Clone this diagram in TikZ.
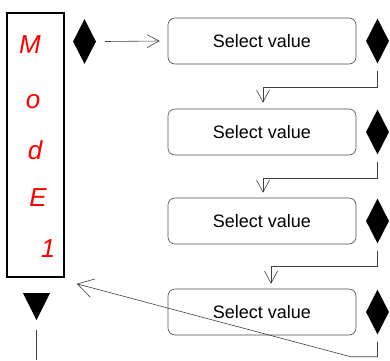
\documentclass[tikz,border=0pt]{standalone}
\usepackage{fontspec}
\setmainfont{Liberation Sans}
\usepackage{tikz}
\usetikzlibrary{arrows.meta,calc,shapes.geometric}
\tikzset{
  valbox/.style = {draw=black!70, line width=0.6pt, rounded corners=7pt,
    minimum width=188pt, minimum height=46pt, inner sep=0pt,
    font=\fontsize{18}{20}\selectfont},
  keyd/.style = {diamond, fill=black, inner sep=0pt,
    minimum width=23pt, minimum height=45pt},
  flow/.style = {draw=black!75, line width=0.6pt,
    -{Straight Barb[length=12pt,width=13pt]}},
  seg/.style = {text=red, inner sep=0pt, font=\fontsize{26}{26}\selectfont\itshape}
}
\begin{document}
\begin{tikzpicture}[x=1pt,y=1pt]
\useasboundingbox (0,0) rectangle (390,360);
% display panel
\node[draw, line width=1.6pt, minimum width=57pt, minimum height=264pt,
  inner sep=0pt] (disp) at (35.5,215) {};
\foreach \c/\x/\y [count=\i] in {M/30/315, o/33/258, d/35/210, E/38/162, 1/48/111}{
  \node[seg] (ch\i) at (\x,\y) {\c};
}
\node[keyd] (kin) at (84.5,318.5) {};
% value steps
\foreach \i/\y in {1/319,2/228,3/139,4/48}{
  \node[valbox] (b\i) at (262,\y) {Select value};
  \node[keyd] (k\i) at (377.5,\y) {};
}
\draw[flow] ([xshift=9pt]kin.east) -- ([xshift=-8pt]b1.west);
\draw[flow] ([yshift=-7pt]k1.south) -- ++(0,-17) -| ([xshift=1pt,yshift=6pt]b2.north);
\draw[flow] ([yshift=-7pt]k2.south) -- ++(0,-17) -| ([xshift=1pt,yshift=5pt]b3.north);
\draw[flow] ([yshift=-7pt]k3.south) -- ++(0,-16) -| ([xshift=9pt,yshift=5pt]b4.north);
\draw[flow, -{Straight Barb[length=16pt,width=19pt]}]
  ([yshift=-7pt]k4.south) -- ++(0,-15) -- ++(-27,0)
  -- ([xshift=12pt,yshift=-6pt]disp.south east);
% exit
\coordinate (dn) at (36.5,53.5);
\coordinate (out) at (36.5,0);
\fill (dn) ++(-13.5,13.5) -- ++(27,0) -- ++(-13.5,-27) -- cycle;
\draw[draw=black!75, line width=0.6pt] ([yshift=-23.5pt]dn) -- (out);
\end{tikzpicture}
\end{document}
